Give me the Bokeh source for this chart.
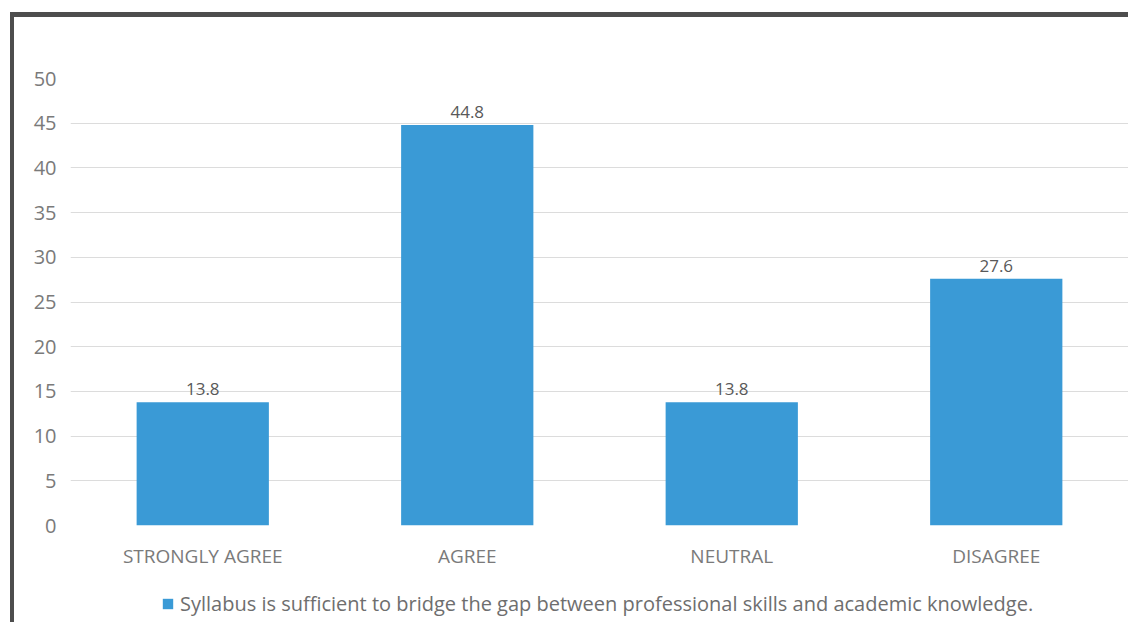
from bokeh.plotting import figure
from bokeh.layouts import column
from bokeh.models import ColumnDataSource, Range1d, FactorRange, FixedTicker, Legend, LegendItem
from bokeh.core.properties import value
from bokeh.embed import file_html
from bokeh.resources import INLINE

categories = ["STRONGLY AGREE", "AGREE", "NEUTRAL", "DISAGREE"]
values = [13.8, 44.8, 13.8, 27.6]
labels = ["13.8", "44.8", "13.8", "27.6"]
y_ticks = [0, 5, 10, 15, 20, 25, 30, 35, 40, 45, 50]
series_name = "Syllabus is sufficient to bridge the gap between professional skills and academic knowledge."

FONT = "Open Sans"
BAR = "#3A9AD6"
FRAME = "#4d4d4d"

src = ColumnDataSource(data=dict(cat=categories, val=values, lab=labels))

p = figure(
    x_range=categories,
    y_range=Range1d(0, 50),
    width=1118, height=558,
    output_backend="svg", toolbar_location=None,
    min_border_left=56, min_border_right=4, min_border_top=61, min_border_bottom=50,
)
p.margin = (12, 0, 0, 10)
p.styles = {"border-left": f"4px solid {FRAME}", "border-top": f"5px solid {FRAME}"}
p.x_range.range_padding = 0
p.outline_line_color = None
p.background_fill_color = "white"
p.border_fill_color = "white"

r = p.vbar(x="cat", top="val", width=0.5, source=src, fill_color=BAR, line_color=None)
p.text(x="cat", y="val", text="lab", source=src, text_align="center", text_baseline="bottom",
       y_offset=-7, text_font=value(FONT), text_font_size="17px", text_color="#595959")

p.yaxis.ticker = FixedTicker(ticks=y_ticks)
p.yaxis.axis_line_color = None
p.yaxis.major_tick_line_color = None
p.yaxis.minor_tick_line_color = None
p.yaxis.major_label_text_font = FONT
p.yaxis.major_label_text_font_size = "20px"
p.yaxis.major_label_text_color = "#7a7a7a"
p.yaxis.major_label_standoff = 8

p.xaxis.axis_line_color = None
p.xaxis.major_tick_line_color = None
p.xaxis.major_label_text_font = FONT
p.xaxis.major_label_text_font_size = "19px"
p.xaxis.major_label_text_color = "#7a7a7a"
p.xaxis.major_label_standoff = 11

p.xgrid.grid_line_color = None
p.ygrid.grid_line_color = "#dcdcdc"
p.ygrid.grid_line_width = 1

# Legend strip below the chart (same series, drawn out of view so only the legend shows)
q = figure(
    width=1118, height=52,
    x_range=FactorRange(*categories), y_range=Range1d(100, 101),
    x_axis_type=None, y_axis_type=None,
    output_backend="svg", toolbar_location=None,
    min_border=0,
)
q.margin = (0, 0, 0, 10)
q.styles = {"border-left": f"4px solid {FRAME}"}
q.outline_line_color = None
q.xgrid.grid_line_color = None
q.ygrid.grid_line_color = None
q.border_fill_color = "white"
lr = q.vbar(x="cat", top="val", width=0.5, source=src, fill_color=BAR, line_color=None)

legend = Legend(items=[LegendItem(label=series_name, renderers=[lr])],
                location=(91, 5), orientation="horizontal",
                label_text_font=FONT, label_text_font_size="20px", label_text_color="#6e6e6e",
                glyph_width=13, glyph_height=13, border_line_color=None,
                background_fill_alpha=0, margin=0, padding=4, label_standoff=6)
q.add_layout(legend, "center")

layout = column(p, q, spacing=0)
open("out.html", "w").write(file_html(layout, INLINE))
